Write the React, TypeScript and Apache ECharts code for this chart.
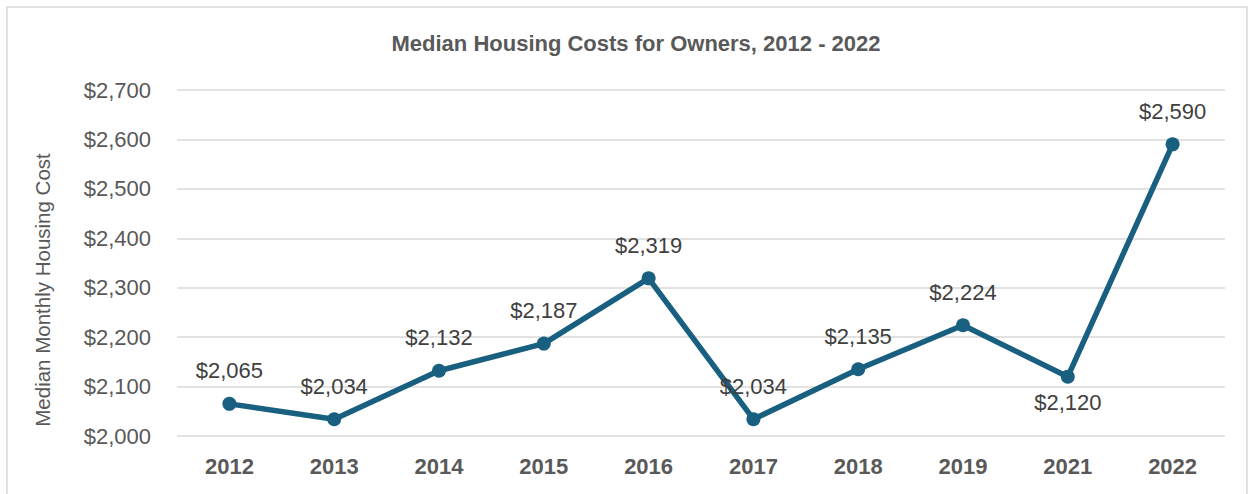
import React, { useEffect, useRef } from "react";
import * as echarts from "echarts";

const years = ["2012", "2013", "2014", "2015", "2016", "2017", "2018", "2019", "2021", "2022"];
const costs = [2065, 2034, 2132, 2187, 2319, 2034, 2135, 2224, 2120, 2590];
const belowLabelYears = ["2021"];

const FONT = "'Liberation Sans', Arial, sans-serif";

export default function App() {
  const ref = useRef<HTMLDivElement>(null);
  useEffect(() => {
    if (!ref.current) return;
    const chart = echarts.init(ref.current, null, { renderer: "svg" });
    const fmt = (v: number) => "$" + v.toLocaleString("en-US");
    chart.setOption({
      animation: false,
      backgroundColor: "#ffffff",
      title: {
        text: "Median Housing Costs for Owners, 2012 - 2022",
        left: 631,
        top: 27,
        textAlign: "center",
        textStyle: { fontFamily: FONT, fontSize: 22, fontWeight: "bold", color: "#595959" },
      },
      graphic: [
        {
          type: "rect",
          shape: { x: 7, y: 7, width: 1240, height: 500 },
          style: { fill: "none", stroke: "#d9d9d9", lineWidth: 1.5 },
          silent: true,
        },
        {
          type: "text",
          x: 42,
          y: 290,
          rotation: Math.PI / 2,
          style: {
            text: "Median Monthly Housing Cost",
            fontFamily: FONT,
            fontSize: 20.5,
            fill: "#595959",
            align: "center",
            verticalAlign: "middle",
          },
        },
      ],
      grid: { left: 177, right: 28, top: 90, bottom: 58 },
      xAxis: {
        type: "category",
        data: years,
        boundaryGap: true,
        axisLine: { show: false },
        axisTick: { show: false },
        axisLabel: {
          fontFamily: FONT,
          fontSize: 22,
          fontWeight: "bold",
          color: "#595959",
          margin: 19,
        },
      },
      yAxis: {
        type: "value",
        min: 2000,
        max: 2700,
        interval: 100,
        axisLine: { show: false },
        axisTick: { show: false },
        splitLine: { lineStyle: { color: "#d9d9d9", width: 1.5 } },
        axisLabel: {
          fontFamily: FONT,
          fontSize: 22,
          color: "#595959",
          margin: 26,
          formatter: (v: number) => fmt(v),
        },
      },
      series: [
        {
          type: "line",
          data: costs.map((v, i) => ({
            value: v,
            label: belowLabelYears.includes(years[i])
              ? { position: "bottom", distance: 8 }
              : { position: "top", distance: 15 },
          })),
          symbol: "circle",
          symbolSize: 14,
          lineStyle: { color: "#185f80", width: 5.5 },
          itemStyle: { color: "#185f80" },
          label: {
            show: true,
            fontFamily: FONT,
            fontSize: 22,
            color: "#404040",
            formatter: (p: any) => fmt(p.value),
          },
        },
      ],
    });
    return () => chart.dispose();
  }, []);
  return (
    <div
      ref={ref}
      style={{ position: "fixed", left: 0, top: 0, width: 1253, height: 494 }}
    />
  );
}
